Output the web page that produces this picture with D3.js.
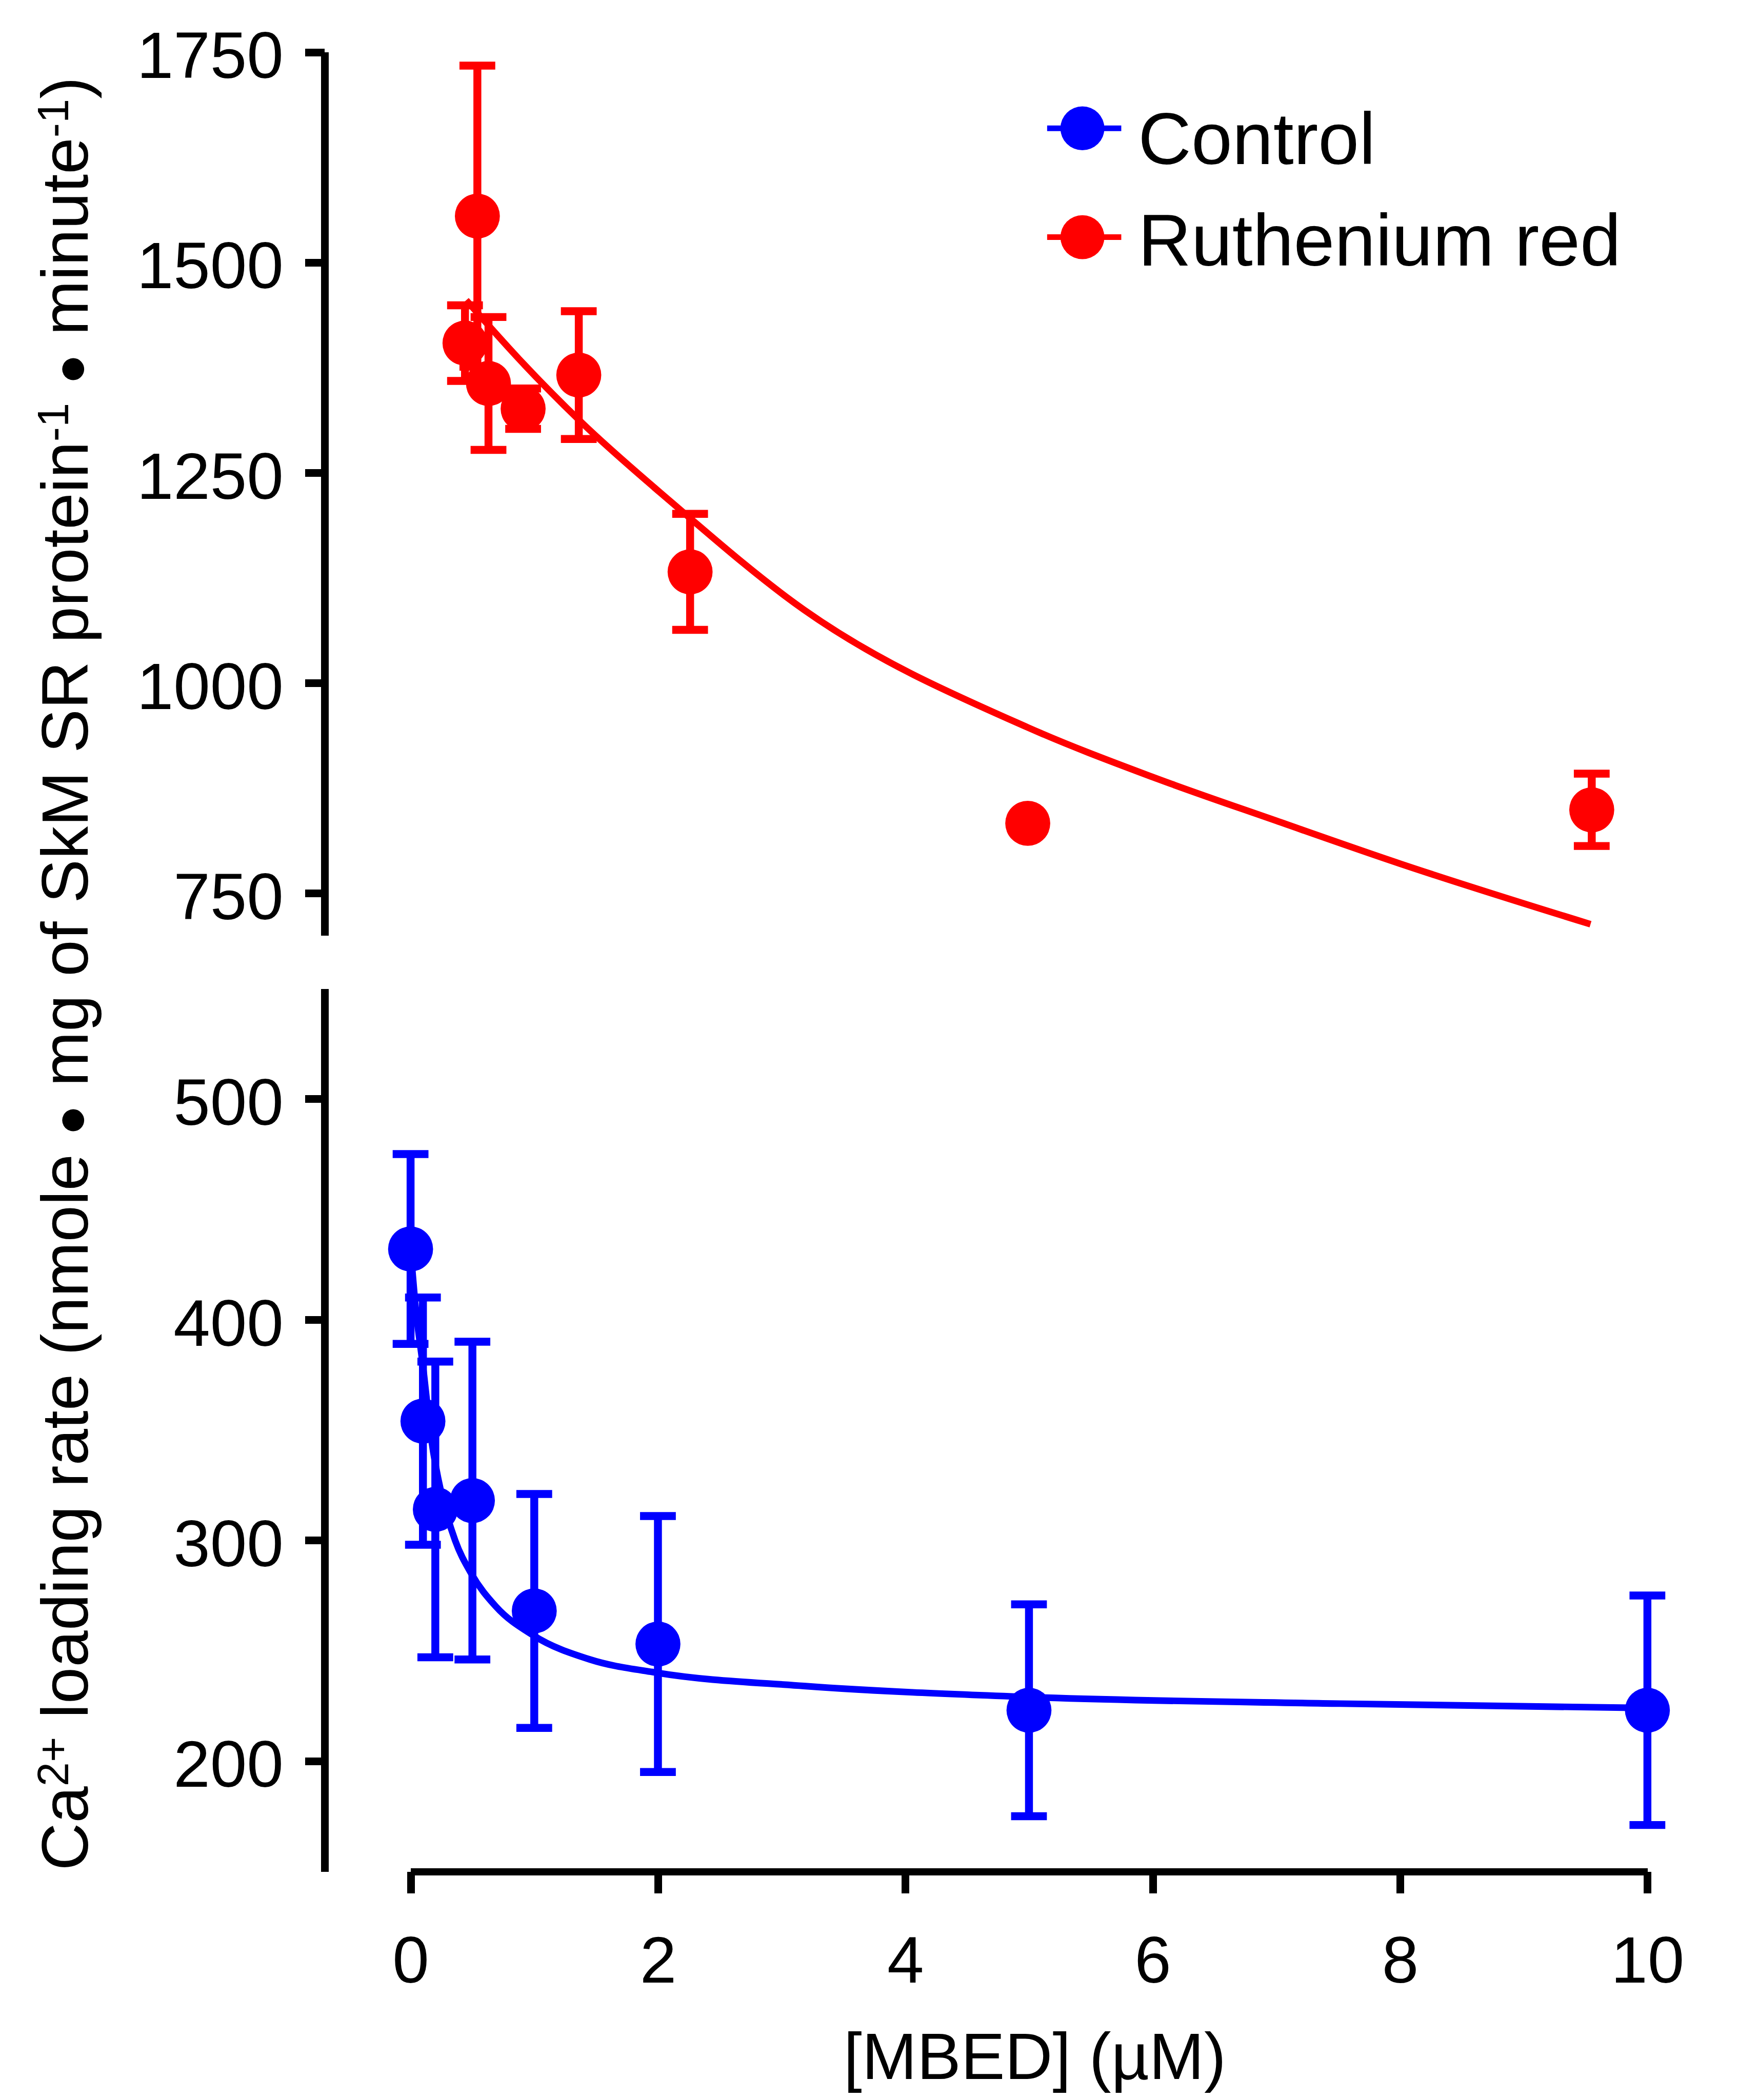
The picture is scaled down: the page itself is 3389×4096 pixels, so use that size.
<!DOCTYPE html>
<meta charset="utf-8">
<style>
body { margin: 0; background: #fff; }
text { font-family: "Liberation Sans", Arial, sans-serif; fill: #000; }
.axis path, .axis line { stroke: #000; stroke-width: 15px; shape-rendering: crispEdges; }
.axis text { font-size: 129px; }
</style>
<body>
<script src="https://d3js.org/d3.v7.min.js"></script>
<script>

var width = 3389,
    height = 4096,
    k = 0.997;

// Control (blue, bottom panel)
var ctrlX = [0, 0.1, 0.2, 0.5, 1, 2, 5, 10];
var ctrlY = [432, 354, 314, 318, 268, 253, 223, 223];
var ctrlErr = [43, 56, 67, 72, 53, 58, 48, 52];
var ctrlFitX = [0, 0.04, 0.1, 0.17, 0.25, 0.36, 0.49, 0.69, 0.99, 1.45, 1.99, 3.18, 4.99, 7.51, 10];
var ctrlFitY = [432, 406, 379, 345, 321, 300, 285, 270, 257, 246, 240, 234, 229, 226, 224];

// Ruthenium red (red, top panel)
var rrX = [0.44, 0.54, 0.63, 0.91, 1.36, 2.26, 4.99, 9.55];
var rrY = [1404, 1555, 1356, 1326, 1366, 1132, 833, 849];
var rrErr = [45, 179, 79, 24, 76, 69, 0, 43];
var rrFitX = [0.45, 0.89, 1.38, 2.10, 3.18, 4.99, 6, 7, 8, 9.54];
var rrFitY = [1455, 1383, 1310, 1216, 1087, 947, 888, 836, 785, 713];

var topTicks = [750, 1000, 1250, 1500, 1750];
var botTicks = [200, 300, 400, 500];
var xTicks = [0, 2, 4, 6, 8, 10];

var svg = d3.select("body").append("svg")
    .attr("width", width)
    .attr("height", height);

var g = svg.append("g").attr("transform", "scale(" + k + ")");

var x = d3.scaleLinear().domain([0, 10]).range([803, 3222]);
var yTop = d3.scaleLinear().domain([700, 1750]).range([1829.5, 102]);
var yBot = d3.scaleLinear().domain([150, 550]).range([3661, 1934]);

var axisX = 634.5;

function yAxis(scale, ticks) {
  var ax = g.append("g")
      .attr("class", "axis")
      .attr("transform", "translate(" + axisX + ",0)")
      .call(d3.axisLeft(scale).tickValues(ticks).tickFormat(d3.format("d"))
          .tickSizeInner(38).tickSizeOuter(0).tickPadding(42));
  ax.select(".domain").attr("fill", "none");
  ax.selectAll("text").attr("dy", "0.39em");
}
yAxis(yTop, topTicks);
yAxis(yBot, botTicks);

var xa = g.append("g")
    .attr("class", "axis")
    .attr("transform", "translate(0,3661.5)")
    .call(d3.axisBottom(x).tickValues(xTicks).tickFormat(d3.format("d"))
        .tickSizeInner(43).tickSizeOuter(0));
xa.select(".domain").attr("fill", "none");
xa.selectAll("text").attr("y", 217).attr("dy", 0);

function series(xs, ys, errs, fx, fy, yscale, color) {
  var pts = xs.map(function(d, i) { return {x: d, y: ys[i], e: errs[i]}; });
  var fit = fx.map(function(d, i) { return [d, fy[i]]; });
  var s = g.append("g");

  var bars = pts.filter(function(d) { return d.e > 0; });
  s.selectAll(".bar").data(bars).enter().append("line")
      .attr("x1", function(d) { return x(d.x); })
      .attr("x2", function(d) { return x(d.x); })
      .attr("y1", function(d) { return yscale(d.y + d.e); })
      .attr("y2", function(d) { return yscale(d.y - d.e); })
      .attr("stroke", color).attr("stroke-width", 15.5);
  [1, -1].forEach(function(sg) {
    s.selectAll(".cap" + sg).data(bars).enter().append("line")
        .attr("x1", function(d) { return x(d.x) - 35; })
        .attr("x2", function(d) { return x(d.x) + 35; })
        .attr("y1", function(d) { return yscale(d.y + sg * d.e); })
        .attr("y2", function(d) { return yscale(d.y + sg * d.e); })
        .attr("stroke", color).attr("stroke-width", 15.5);
  });

  s.selectAll("circle").data(pts).enter().append("circle")
      .attr("cx", function(d) { return x(d.x); })
      .attr("cy", function(d) { return yscale(d.y); })
      .attr("r", 44)
      .attr("fill", color);

  s.append("path")
      .attr("d", d3.line()
          .x(function(d) { return x(d[0]); })
          .y(function(d) { return yscale(d[1]); })
          .curve(d3.curveMonotoneX)(fit))
      .attr("fill", "none")
      .attr("stroke", color)
      .attr("stroke-width", 13);
}

series(rrX, rrY, rrErr, rrFitX, rrFitY, yTop, "#ff0000");
series(ctrlX, ctrlY, ctrlErr, ctrlFitX, ctrlFitY, yBot, "#0000ff");

// legend
var legend = [{name: "Control", color: "#0000ff", y: 251, ty: 321},
              {name: "Ruthenium red", color: "#ff0000", y: 464, ty: 520}];
var lg = g.selectAll(".legend").data(legend).enter().append("g").attr("class", "legend");
lg.append("line")
    .attr("x1", 2048).attr("x2", 2193)
    .attr("y1", function(d) { return d.y; })
    .attr("y2", function(d) { return d.y; })
    .attr("stroke", function(d) { return d.color; })
    .attr("stroke-width", 11);
lg.append("circle")
    .attr("cx", 2117)
    .attr("cy", function(d) { return d.y; })
    .attr("r", 43)
    .attr("fill", function(d) { return d.color; });
lg.append("text")
    .attr("x", 2226)
    .attr("y", function(d) { return d.ty; })
    .style("font-size", "144px")
    .text(function(d) { return d.name; });

// axis titles
g.append("text")
    .attr("x", 2024)
    .attr("y", 4067)
    .attr("text-anchor", "middle")
    .style("font-size", "129px")
    .text("[MBED] (\u00b5M)");

var yt = g.append("text")
    .attr("transform", "translate(172,1905) rotate(-90)")
    .attr("text-anchor", "middle")
    .style("font-size", "129px");
yt.append("tspan").text("Ca");
yt.append("tspan").attr("dy", -39).style("font-size", "85px").text("2+");
yt.append("tspan").attr("dy", 39).text(" loading rate (nmole ");
yt.append("tspan").style("font-size", "100px").text("\u25cf");
yt.append("tspan").text(" mg of SkM SR protein");
yt.append("tspan").attr("dy", -39).style("font-size", "85px").text("-1");
yt.append("tspan").attr("dy", 39).text(" ");
yt.append("tspan").style("font-size", "100px").text("\u25cf");
yt.append("tspan").text(" minute");
yt.append("tspan").attr("dy", -39).style("font-size", "85px").text("-1");
yt.append("tspan").attr("dy", 39).text(")");

</script>
